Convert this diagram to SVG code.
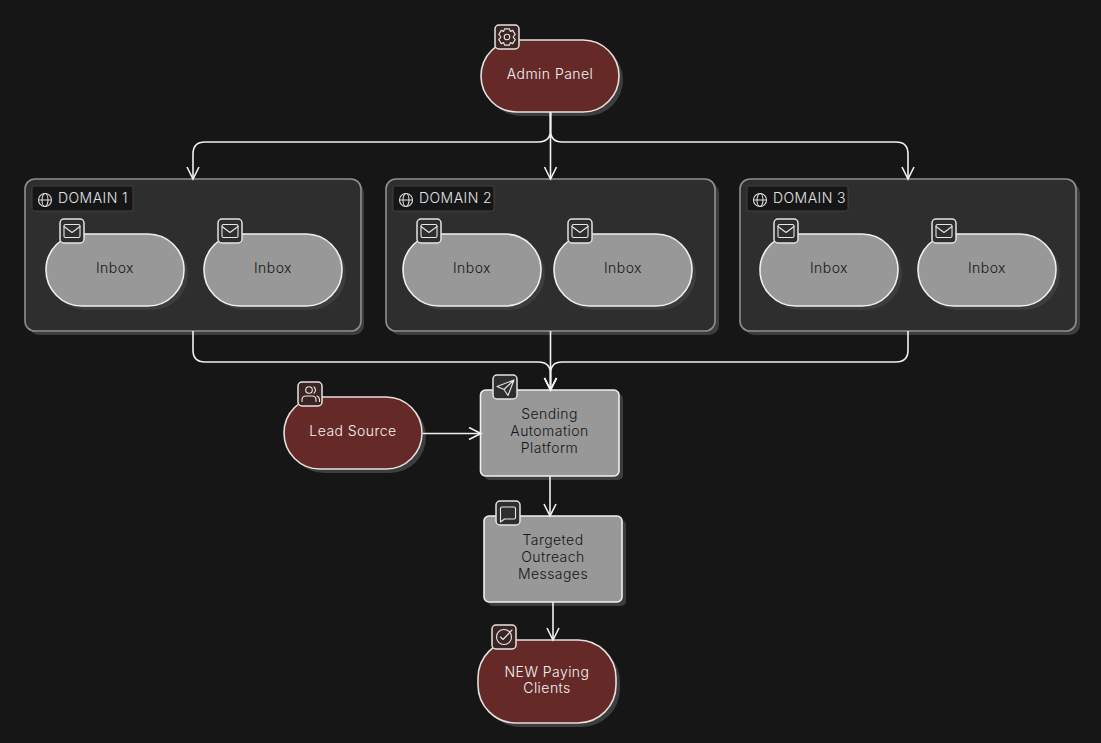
<svg xmlns="http://www.w3.org/2000/svg" width="1101" height="743" viewBox="0 0 1101 743">
<style>
text{font-family:"Inter","Liberation Sans",sans-serif;font-size:14px;font-weight:300;text-anchor:middle;letter-spacing:.45px}
.lt{fill:#f6f4f3}.dk{fill:#161616}
.sh{fill:#3d3d3d}
.red{fill:#652a27;stroke:#e4e0de;stroke-width:1.6}
.gry{fill:#989898;stroke:#efefef;stroke-width:1.6}
.dom{fill:#2e2e2e;stroke:#8f8f8f;stroke-width:1.6}
.badge{stroke:#e4e4e4;stroke-width:1.5}
.ico{fill:none;stroke:#e8e8e8;stroke-width:1.1;stroke-linecap:round;stroke-linejoin:round}
.lab{fill:#161616;stroke:#4a4a4a;stroke-width:.8}
.c{fill:none;stroke:#f0f0f0;stroke-width:1.6}
.dl{text-anchor:start;fill:#e4e4e4}
</style>
<defs>
<marker id="a" markerUnits="userSpaceOnUse" markerWidth="16" markerHeight="16" refX="13" refY="7" orient="auto"><path d="M1 1L13 7L1 13" fill="none" stroke="#f0f0f0" stroke-width="1.6"/></marker>
<g id="mail"><rect x="-8" y="-6.500" width="16" height="13" rx="1.500" class="ico"/><path d="M-8-4.500L0 1.500L8-4.500" class="ico"/></g>
<g id="globe"><circle r="6.500" class="ico" style="stroke:#dcdcdc"/><ellipse rx="3" ry="6.500" class="ico" style="stroke:#dcdcdc"/><path d="M-6.500 0H6.500" class="ico" style="stroke:#dcdcdc"/></g>
</defs>
<rect width="1101" height="743" fill="#161616"/>
<g id="domain-1"><rect x="29" y="183" width="335" height="152" rx="10" class="sh"/><rect x="25" y="179" width="336" height="152" rx="10" class="dom"/><rect x="32" y="186" width="101" height="25" rx="2" class="lab"/><use href="#globe" x="45" y="200"/><text x="58" y="203" class="dl">DOMAIN 1</text></g>
<g id="domain-2"><rect x="390" y="183" width="329" height="152" rx="10" class="sh"/><rect x="386" y="179" width="329" height="152" rx="10" class="dom"/><rect x="393" y="186" width="101" height="25" rx="2" class="lab"/><use href="#globe" x="406" y="200"/><text x="419" y="203" class="dl">DOMAIN 2</text></g>
<g id="domain-3"><rect x="744" y="183" width="336" height="152" rx="10" class="sh"/><rect x="740" y="179" width="336" height="152" rx="10" class="dom"/><rect x="747" y="186" width="101" height="25" rx="2" class="lab"/><use href="#globe" x="760" y="200"/><text x="773" y="203" class="dl">DOMAIN 3</text></g>
<g id="admin"><rect x="485" y="44" width="138" height="72" rx="36" class="sh"/><rect x="481" y="40" width="138" height="72" rx="36" class="red"/><rect x="495" y="25" width="24" height="24" rx="4" fill="#3b2422" class="badge"/><circle cx="507" cy="37" r="2.800" class="ico"/><path class="ico" transform="translate(507 37) scale(1.25) translate(-507 -37)" d="M505 30.500h4l.6 2 2-.8 2 3.400-1.500 1.400 0 1 1.500 1.400-2 3.400-2-.8-.6 2h-4l-.6-2-2 .8-2-3.400 1.500-1.400 0-1-1.500-1.400 2-3.400 2 .8z" vector-effect="non-scaling-stroke"/><text x="550" y="79" class="lt">Admin Panel</text></g>
<g id="inbox-1-1"><rect x="50" y="238" width="138" height="72" rx="36" class="sh"/><rect x="46" y="234" width="138" height="72" rx="36" class="gry"/><rect x="60" y="219" width="24" height="24" rx="4" fill="#2e2e2e" class="badge"/><use href="#mail" x="72" y="231"/><text x="115" y="273" class="dk">Inbox</text></g>
<g id="inbox-1-2"><rect x="208" y="238" width="138" height="72" rx="36" class="sh"/><rect x="204" y="234" width="138" height="72" rx="36" class="gry"/><rect x="218" y="219" width="24" height="24" rx="4" fill="#2e2e2e" class="badge"/><use href="#mail" x="230" y="231"/><text x="273" y="273" class="dk">Inbox</text></g>
<g id="inbox-2-1"><rect x="407" y="238" width="138" height="72" rx="36" class="sh"/><rect x="403" y="234" width="138" height="72" rx="36" class="gry"/><rect x="417" y="219" width="24" height="24" rx="4" fill="#2e2e2e" class="badge"/><use href="#mail" x="429" y="231"/><text x="472" y="273" class="dk">Inbox</text></g>
<g id="inbox-2-2"><rect x="558" y="238" width="138" height="72" rx="36" class="sh"/><rect x="554" y="234" width="138" height="72" rx="36" class="gry"/><rect x="568" y="219" width="24" height="24" rx="4" fill="#2e2e2e" class="badge"/><use href="#mail" x="580" y="231"/><text x="623" y="273" class="dk">Inbox</text></g>
<g id="inbox-3-1"><rect x="764" y="238" width="138" height="72" rx="36" class="sh"/><rect x="760" y="234" width="138" height="72" rx="36" class="gry"/><rect x="774" y="219" width="24" height="24" rx="4" fill="#2e2e2e" class="badge"/><use href="#mail" x="786" y="231"/><text x="829" y="273" class="dk">Inbox</text></g>
<g id="inbox-3-2"><rect x="922" y="238" width="138" height="72" rx="36" class="sh"/><rect x="918" y="234" width="138" height="72" rx="36" class="gry"/><rect x="932" y="219" width="24" height="24" rx="4" fill="#2e2e2e" class="badge"/><use href="#mail" x="944" y="231"/><text x="987" y="273" class="dk">Inbox</text></g>
<g id="lead"><rect x="288" y="401" width="138" height="72" rx="36" class="sh"/><rect x="284" y="397" width="138" height="72" rx="36" class="red"/><rect x="298" y="382" width="24" height="24" rx="4" fill="#3b2422" class="badge"/><circle cx="309" cy="390" r="3.300" class="ico"/><path class="ico" d="M302 401.500v-1.500q0-4 4-4h6q4 0 4 4v1.500M314 386.800q3 3.200 0 6.400M317 396q2.500 1 2.500 4v1.500"/><text x="353" y="436" class="lt">Lead Source</text></g>
<g id="sending"><rect x="484.500" y="394" width="138.500" height="86" rx="5" class="sh"/><rect x="480.500" y="390" width="138.500" height="86" rx="5" class="gry"/><rect x="493" y="375" width="24" height="24" rx="4" fill="#2e2e2e" class="badge"/><path class="ico" d="M514 380L497 386.500L504 389.500L508 395.500zM504 389.500L514 380"/><text x="549.500" y="419" class="dk">Sending</text><text x="549.500" y="436" class="dk">Automation</text><text x="549.500" y="453" class="dk">Platform</text></g>
<g id="outreach"><rect x="488" y="520" width="138" height="86" rx="5" class="sh"/><rect x="484" y="516" width="138" height="86" rx="5" class="gry"/><rect x="496" y="501" width="24" height="24" rx="4" fill="#2e2e2e" class="badge"/><path class="ico" d="M502 507h12a1.500 1.500 0 0 1 1.500 1.500v9a1.500 1.500 0 0 1-1.500 1.500h-9.500l-4 3v-13.500a1.500 1.500 0 0 1 1.500-1.500z"/><text x="553" y="545" class="dk">Targeted</text><text x="553" y="562" class="dk">Outreach</text><text x="553" y="579" class="dk">Messages</text></g>
<g id="clients"><rect x="482" y="644" width="138" height="83" rx="38" class="sh"/><rect x="478" y="640" width="138" height="83" rx="38" class="red"/><rect x="492" y="625" width="24" height="24" rx="4" fill="#3b2422" class="badge"/><circle cx="504" cy="637" r="7.500" class="ico"/><path class="ico" d="M500.500 637l2.500 2.500L512 630"/><text x="547" y="677" class="lt">NEW Paying</text><text x="547" y="693" class="lt">Clients</text></g>
<g id="connectors">
<path class="c" d="M550.500 112V130Q550.500 142 538 142H205Q193 142 193 154V179" marker-end="url(#a)"/>
<path class="c" d="M550.500 112V179" marker-end="url(#a)"/>
<path class="c" d="M550.500 112V130Q550.500 142 562 142H896Q908 142 908 154V179" marker-end="url(#a)"/>
<path class="c" d="M193 331V350Q193 362 205 362H538Q550.500 362 550.500 374V390" marker-end="url(#a)"/>
<path class="c" d="M550.500 331V390" marker-end="url(#a)"/>
<path class="c" d="M908 331V350Q908 362 896 362H562Q550.500 362 550.500 374V390" marker-end="url(#a)"/>
<path class="c" d="M423 433.500H481" marker-end="url(#a)"/>
<path class="c" d="M550 476V516" marker-end="url(#a)"/>
<path class="c" d="M553 602V640" marker-end="url(#a)"/>
</g>
</svg>
